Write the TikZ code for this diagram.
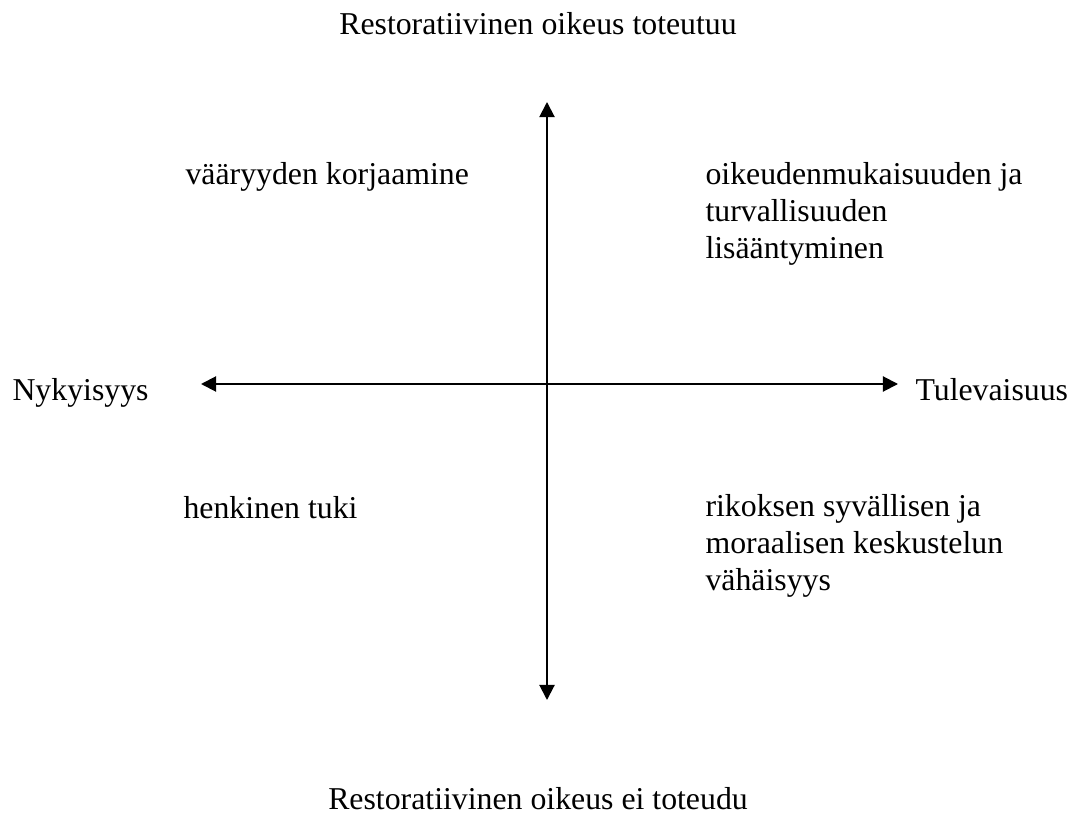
\documentclass[tikz,border=0pt]{standalone}
\usepackage{fontspec}
\setmainfont{Liberation Serif}
\usetikzlibrary{arrows.meta}
\definecolor{QuadInk}{HTML}{000000}

\begin{document}
\begin{tikzpicture}[x=0.3774pt,y=-0.3774pt,
    axisline/.style={QuadInk, line width=0.75pt,
      {Triangle[width=5.7pt,length=5.7pt]}-{Triangle[width=5.7pt,length=5.7pt]}},
    quadtext/.style={anchor=base west, align=left, inner sep=0pt, text=QuadInk,
      font=\fontsize{12}{13.85}\selectfont}]
    \useasboundingbox (0,0) rectangle (1068,814);
    \coordinate (nowend) at (201,384);
    \coordinate (futend) at (898,384);
    \coordinate (upend) at (547,102);
    \coordinate (lowend) at (547,700);
    \draw[axisline] (nowend) -- (futend);
    \draw[axisline] (lowend) -- (upend);
    \node[quadtext, anchor=base] (yes) at (538,35) {Restoratiivinen oikeus toteutuu};
    \node[quadtext, anchor=base] (no) at (538,809) {Restoratiivinen oikeus ei toteudu};
    \node[quadtext] (now) at (12,400) {Nykyisyys};
    \node[quadtext] (future) at (915,400) {Tulevaisuus};
    \node[quadtext] (wrong) at (185,185) {vääryyden korjaamine};
    % multi-line nodes sit on the baseline of their last line
    \node[quadtext] (fair) at (705,258) {oikeudenmukaisuuden ja\\turvallisuuden\\lisääntyminen};
    \node[quadtext] (support) at (183,518) {henkinen tuki};
    \node[quadtext] (talk) at (705,590) {rikoksen syvällisen ja\\moraalisen keskustelun\\vähäisyys};
  \end{tikzpicture}
\end{document}
